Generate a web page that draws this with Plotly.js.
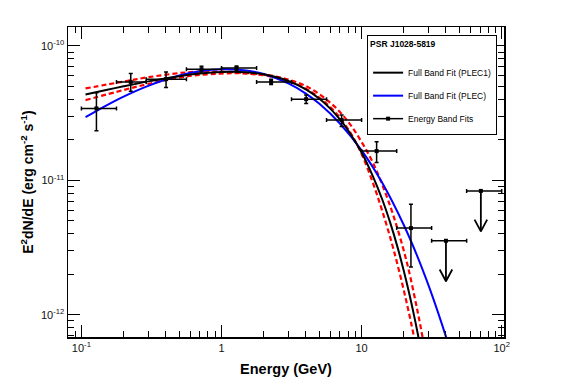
<!DOCTYPE html>
<html>
<head>
<meta charset="utf-8">
<script src="https://cdn.plot.ly/plotly-3.0.1.min.js"></script>
<style>html,body{margin:0;padding:0;background:#fff;}#plot{width:567px;height:384px;}</style>
</head>
<body>
<div id="plot"></div>
<script>
// ---- Energy band fits (flux points) ----
var bandE    = [0.128, 0.225, 0.402, 0.72, 1.28, 2.26, 4.02, 7.2, 12.8, 22.5];
var bandLo   = [0.1, 0.178, 0.29, 0.562, 1.0, 1.78, 3.16, 5.62, 10, 17.8];
var bandHi   = [0.178, 0.29, 0.562, 1.0, 1.78, 3.16, 5.62, 10, 17.8, 31.6];
var bandF    = [3.43e-11, 5.40e-11, 5.66e-11, 6.71e-11, 6.85e-11, 5.40e-11, 4.02e-11, 2.81e-11, 1.65e-11, 4.41e-12];
var bandFHi  = [4.48e-11, 6.24e-11, 6.41e-11, 7.07e-11, 7.10e-11, 5.66e-11, 4.31e-11, 3.06e-11, 1.94e-11, 6.65e-12];
var bandFLo  = [2.34e-11, 4.61e-11, 4.91e-11, 6.41e-11, 6.60e-11, 5.16e-11, 3.73e-11, 2.51e-11, 1.36e-11, 2.26e-12];

// ---- Upper limits ----
var ulE  = [40, 71];
var ulLo = [31.6, 56.2];
var ulHi = [56.2, 100];
var ulF  = [3.55e-12, 8.34e-12];

// ---- Full band fit (PLEC1), black ----
var plec1E = [0.107, 0.15, 0.2, 0.3, 0.5, 0.7, 1, 1.5, 2, 3, 4, 5, 6, 7, 8, 10, 12, 14, 16, 18, 20, 22, 24, 26, 28];
var plec1F = [4.35e-11, 4.70e-11, 5.01e-11, 5.45e-11, 5.96e-11, 6.23e-11, 6.40e-11, 6.37e-11, 6.15e-11, 5.49e-11,
              4.75e-11, 4.04e-11, 3.40e-11, 2.84e-11, 2.36e-11, 1.61e-11, 1.08e-11, 7.26e-12, 4.84e-12, 3.21e-12,
              2.12e-12, 1.40e-12, 9.23e-13, 6.06e-13, 3.98e-13];

// ---- Full band fit (PLEC), blue ----
var plecE = [0.107, 0.15, 0.2, 0.3, 0.5, 0.7, 1, 1.5, 2, 3, 4, 5, 7, 10, 14, 20, 25, 30, 35, 40, 45];
var plecF = [2.95e-11, 3.60e-11, 4.20e-11, 5.05e-11, 6.02e-11, 6.48e-11, 6.71e-11, 6.57e-11, 6.18e-11, 5.26e-11,
             4.42e-11, 3.71e-11, 2.65e-11, 1.67e-11, 9.62e-12, 4.65e-12, 2.72e-12, 1.66e-12, 1.05e-12, 6.87e-13, 4.59e-13];

// ---- PLEC1 uncertainty band (red dashed) ----
var bandCurveE = [0.107, 0.2, 0.3, 0.577, 1.0, 1.5, 2.5, 4, 6, 8, 10, 12, 14, 17, 21, 25, 28];
var bandUpF = [4.83e-11, 5.43e-11, 5.85e-11, 6.37e-11, 6.43e-11, 6.29e-11, 5.90e-11, 5.03e-11, 3.77e-11, 2.74e-11,
               1.93e-11, 1.36e-11, 9.36e-12, 5.32e-12, 2.47e-12, 1.08e-12, 5.82e-13];
var bandLoF = [3.95e-11, 4.70e-11, 5.21e-11, 5.95e-11, 6.23e-11, 6.23e-11, 5.79e-11, 4.81e-11, 3.49e-11, 2.41e-11,
               1.57e-11, 9.66e-12, 5.97e-12, 2.99e-12, 1.22e-12, 5.12e-13, 2.66e-13];

// ---- tick labels ----
var xTickVals = [0.1, 1, 10, 100];
var xTickText = ['10<sup>-1</sup>', '1', '10', '10<sup>2</sup>'];
var yTickVals = [1e-12, 1e-11, 1e-10];
var yTickText = ['10<sup>-12</sup>', '10<sup>-11</sup>', '10<sup>-10</sup>'];

// style constants
var ARROW_DROP = 0.5;     // arrow tip relative to UL value
var HEAD_H = 1.222;       // arrow head height factor
var HEAD_W = 1.109;       // arrow head half-width factor

function sub(a, b){ return a.map(function(v,i){ return v - b[i]; }); }

// arrows for upper limits
var arrX = [], arrY = [];
for (var i = 0; i < ulE.length; i++) {
  var tip = ulF[i] * ARROW_DROP;
  arrX.push(ulE[i], ulE[i], null, ulE[i] / HEAD_W, ulE[i], ulE[i] * HEAD_W, null);
  arrY.push(ulF[i], tip, null, tip * HEAD_H, tip, tip * HEAD_H, null);
}

var font = 'Liberation Sans, Arial, Helvetica, sans-serif';

var traces = [
  {x: bandCurveE, y: bandUpF, mode: 'lines', line: {color: '#ff0000', width: 2.2, dash: '5px,3px', shape: 'spline'}, showlegend: false, hoverinfo: 'skip'},
  {x: bandCurveE, y: bandLoF, mode: 'lines', line: {color: '#ff0000', width: 2.2, dash: '5px,3px', shape: 'spline'}, showlegend: false, hoverinfo: 'skip'},
  {x: plecE, y: plecF, mode: 'lines', name: 'Full Band Fit (PLEC)', legendgroup: 'b', legendrank: 2,
   line: {color: '#0000ff', width: 2, shape: 'spline'}},
  {x: plec1E, y: plec1F, mode: 'lines', name: 'Full Band Fit (PLEC1)', legendgroup: 'a', legendrank: 1,
   line: {color: '#000000', width: 2, shape: 'spline'}},
  {x: bandE, y: bandF, mode: 'markers', showlegend: false,
   marker: {symbol: 'square', size: 4, color: '#000'},
   error_x: {type: 'data', symmetric: false, array: sub(bandHi, bandE), arrayminus: sub(bandE, bandLo), color: '#000', thickness: 1.5, width: 2},
   error_y: {type: 'data', symmetric: false, array: sub(bandFHi, bandF), arrayminus: sub(bandF, bandFLo), color: '#000', thickness: 1.5, width: 2}},
  {x: ulE, y: ulF, mode: 'markers', showlegend: false,
   marker: {symbol: 'square', size: 4, color: '#000'},
   error_x: {type: 'data', symmetric: false, array: sub(ulHi, ulE), arrayminus: sub(ulE, ulLo), color: '#000', thickness: 1.5, width: 2}},
  {x: arrX, y: arrY, mode: 'lines', line: {color: '#000', width: 1.8}, showlegend: false, hoverinfo: 'skip'},
  {x: [null], y: [null], mode: 'lines+markers', name: 'Energy Band Fits', legendgroup: 'c', legendrank: 3,
   line: {color: '#000', width: 1.5}, marker: {symbol: 'square', size: 4, color: '#000'}}
];

var axisCommon = {
  type: 'log', showline: true, linecolor: '#000', linewidth: 1.5, mirror: 'allticks',
  ticks: 'inside', ticklen: 12, tickwidth: 1, tickcolor: '#000',
  minor: {ticks: 'inside', ticklen: 6, tickwidth: 1, tickcolor: '#000', dtick: 'D1', showgrid: false},
  showgrid: false, zeroline: false, tickmode: 'array',
  tickfont: {family: font, size: 11, color: '#111'}
};

var layout = {
  width: 567, height: 384,
  margin: {l: 68, r: 63, t: 27, b: 47},
  paper_bgcolor: '#fff', plot_bgcolor: '#fff',
  showlegend: true,
  xaxis: Object.assign({}, axisCommon, {
    range: [-1.0957, 2.0164], tickvals: xTickVals, ticktext: xTickText,
    title: {text: 'Energy (GeV)', font: {family: font, size: 14.5, weight: 'bold', color: '#000'}, standoff: 11}
  }),
  yaxis: Object.assign({}, axisCommon, {
    range: [-12.166, -9.859], tickvals: yTickVals, ticktext: yTickText,
    title: {text: 'E<sup>2</sup>dN/dE (erg cm<sup>-2</sup> s<sup>-1</sup>)', font: {family: font, size: 14, weight: 'bold', color: '#000'}, standoff: 4}
  }),
  legend: {
    x: 0.686, y: 0.974, xanchor: 'left', yanchor: 'top',
    bgcolor: '#fff', bordercolor: '#000', borderwidth: 1,
    font: {family: font, size: 8.5, color: '#000'},
    title: {text: 'PSR J1028-5819<br> ', font: {family: font, size: 8.5, weight: 'bold', color: '#000'}},
    tracegroupgap: 4, itemwidth: 30
  }
};

Plotly.newPlot('plot', traces, layout, {staticPlot: true, displayModeBar: false});
</script>
</body>
</html>
